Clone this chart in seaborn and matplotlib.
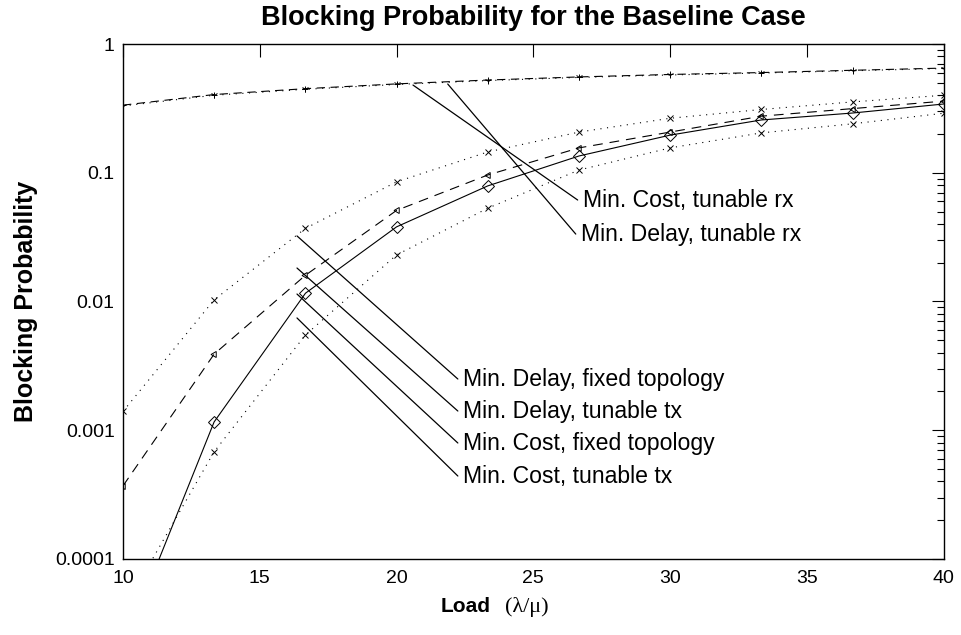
import numpy as np
import pandas as pd
import matplotlib
matplotlib.use("Agg")
import matplotlib.pyplot as plt
import seaborn as sns
from matplotlib.ticker import FixedLocator, FixedFormatter, LogLocator, NullFormatter

sns.set_theme(style="white")
plt.rcParams['font.family'] = ['Liberation Sans', 'DejaVu Sans']
plt.rcParams['lines.scale_dashes'] = False
plt.rcParams['text.color'] = 'black'
plt.rcParams['axes.labelcolor'] = 'black'

# ---- data ----
load = [10, 13.33, 16.67, 20, 23.33, 26.67, 30, 33.33, 36.67, 40]
min_cost_rx   = [0.335, 0.405, 0.45, 0.49, 0.525, 0.555, 0.58, 0.60, 0.625, 0.65]
min_delay_rx  = [0.33, 0.40, 0.445, 0.485, 0.52, 0.55, 0.575, 0.595, 0.62, 0.645]
min_delay_fix = [0.0014, 0.0103, 0.037, 0.085, 0.145, 0.207, 0.265, 0.31, 0.355, 0.40]
min_delay_tx  = [0.00037, 0.0039, 0.016, 0.051, 0.096, 0.156, 0.207, 0.275, 0.315, 0.36]
min_cost_fix  = [0.00002, 0.00116, 0.0116, 0.038, 0.079, 0.135, 0.196, 0.257, 0.291, 0.342]
min_cost_tx   = [0.00004, 0.00068, 0.0055, 0.023, 0.053, 0.105, 0.156, 0.204, 0.24, 0.29]

x_ticks = [10, 15, 20, 25, 30, 35, 40]
y_ticks = [0.0001, 0.001, 0.01, 0.1, 1]
y_tick_labels = ["0.0001", "0.001", "0.01", "0.1", "1"]

series = [
    ("Min. Cost, tunable rx",      min_cost_rx,   (6, 4),   "+"),
    ("Min. Delay, tunable rx",     min_delay_rx,  (0.8, 4), "1"),
    ("Min. Delay, fixed topology", min_delay_fix, (0.8, 4), "x"),
    ("Min. Delay, tunable tx",     min_delay_tx,  (7, 5),   (3, 0, 90)),
    ("Min. Cost, fixed topology",  min_cost_fix,  "",       "D"),
    ("Min. Cost, tunable tx",      min_cost_tx,   (0.8, 4), "x"),
]

df = pd.concat([pd.DataFrame({"load": load, "p": vals, "name": name})
                for name, vals, _, _ in series], ignore_index=True)

fig = plt.figure(figsize=(9.61, 6.35), dpi=100)
ax = fig.add_axes([0.128, 0.1197, 0.854, 0.811])

for name, vals, dash, mk in series:
    sub = df[df["name"] == name]
    ms = 6 if mk == "D" else 5
    sns.lineplot(data=sub, x="load", y="p", ax=ax, color="black", lw=0.8,
                 marker=mk, markersize=ms, markerfacecolor="none",
                 markeredgecolor="black", markeredgewidth=0.7, legend=False)
    ln = ax.lines[-1]
    if dash == "":
        ln.set_linestyle("-")
    else:
        ln.set_dashes(dash)

ax.set_yscale("log")
ax.set_xlim(10, 40)
ax.set_ylim(1e-4, 1)
ax.xaxis.set_major_locator(FixedLocator(x_ticks))
ax.set_xticklabels([str(t) for t in x_ticks])
ax.yaxis.set_major_locator(FixedLocator(y_ticks))
ax.yaxis.set_major_formatter(FixedFormatter(y_tick_labels))
ax.yaxis.set_minor_locator(LogLocator(base=10, subs=np.arange(2, 10)))
ax.yaxis.set_minor_formatter(NullFormatter())
ax.tick_params(axis="both", which="both", direction="in", top=True, right=True,
               labelsize=14, colors="black", width=0.8)
ax.tick_params(axis="both", which="major", length=9, pad=8)
ax.tick_params(axis="y", which="major", pad=6)
ax.tick_params(axis="y", which="minor", length=5)
for s in ax.spines.values():
    s.set_color("black")
    s.set_linewidth(1.0)
ax.set_xlabel("")
ax.set_ylabel("Blocking Probability", fontsize=18, fontweight="bold", labelpad=12)

fig.text(0.555, 1 - 18 / 635, "Blocking Probability for the Baseline Case",
         fontsize=19.5, fontweight="bold", ha="center", va="center")

fig.text(0.511, 1 - 606 / 635, "Load", fontsize=15, fontweight="bold", ha="right", va="center")
fig.text(0.525, 1 - 607 / 635, "(\u03bb/\u03bc)", fontsize=16, ha="left", va="center",
         family=["Liberation Serif", "DejaVu Serif"])

# annotations (positions in data coords)
annots = [
    ("Min. Cost, tunable rx",      (20.60, 0.480), (26.62, 0.0614)),
    ("Min. Delay, tunable rx",     (21.87, 0.489), (26.55, 0.0334)),
    ("Min. Delay, fixed topology", (16.36, 0.0323), (22.24, 0.0025)),
    ("Min. Delay, tunable tx",     (16.36, 0.0182), (22.24, 0.00141)),
    ("Min. Cost, fixed topology",  (16.36, 0.01143), (22.24, 0.000796)),
    ("Min. Cost, tunable tx",      (16.36, 0.00745), (22.24, 0.000441)),
]
for txt, p0, p1 in annots:
    ax.plot([p0[0], p1[0]], [p0[1], p1[1]], color="black", lw=0.9)
    ax.text(p1[0] + 0.2, p1[1], txt, fontsize=16.6, ha="left", va="center", color="black")

fig.savefig("out.png", dpi=100, facecolor="white")
